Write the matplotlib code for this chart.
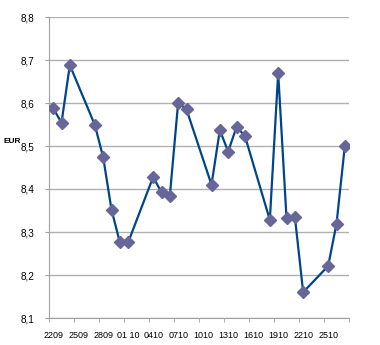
import numpy as np
import matplotlib
matplotlib.use("Agg")
import matplotlib.pyplot as plt

plt.rcParams['font.family'] = ['Liberation Sans', 'DejaVu Sans']

# trading day offsets from 22.09 and EUR rate
days = [0, 1, 2, 5, 6, 7, 8, 9, 12, 13, 14, 15, 16, 19, 20, 21, 22, 23,
        26, 27, 28, 29, 30, 33, 34, 35]
rates = [8.588, 8.554, 8.688, 8.549, 8.474, 8.352, 8.276, 8.276, 8.428,
         8.392, 8.384, 8.601, 8.585, 8.410, 8.537, 8.487, 8.544, 8.524,
         8.328, 8.670, 8.333, 8.336, 8.160, 8.221, 8.319, 8.500]

tick_labels = ["2209", "2509", "2809", "01 10", "0410", "0710", "1010",
               "1310", "1610", "1910", "2210", "2510"]
y_ticks = [8.1, 8.2, 8.3, 8.4, 8.5, 8.6, 8.7, 8.8]

fig = plt.figure(figsize=(3.8, 3.45), dpi=100)
ax = fig.add_axes([49/380, 1-318/345, 300/380, 301/345])

ax.plot(days, rates, color='#00458a', lw=1.6, zorder=3)
ax.plot(days, rates, ls='none', marker='D', ms=6, color='#666699',
        mec='#666699', zorder=4)

ax.set_xlim(-0.5, 35.5)
ax.set_ylim(8.1, 8.8)

# minor ticks mark the intervals, labels sit on every third day
ax.set_xticks(np.arange(0, 34, 3))
ax.set_xticklabels(tick_labels, fontsize=6.5)
ax.set_xticks(np.arange(-0.5, 36, 3), minor=True)
ax.tick_params(axis='x', which='major', length=0, pad=9)
ax.tick_params(axis='x', which='minor', length=3, color='#a0a0a0')

ax.set_yticks(y_ticks)
ax.set_yticklabels([("%.1f" % v).replace('.', ',') for v in y_ticks],
                   fontsize=7.2)
ax.tick_params(axis='y', length=3, color='#a0a0a0', pad=7.5)

ax.grid(axis='y', color='#b0b0b0', lw=1)
ax.set_axisbelow(True)
for s in ['top', 'right']:
    ax.spines[s].set_visible(False)
for s in ['left', 'bottom']:
    ax.spines[s].set_color('#a0a0a0')

fig.text(3/380, 1-142/345, "EUR", fontsize=6, fontweight='bold',
         va='center', ha='left')

fig.savefig("out.png", dpi=100)
